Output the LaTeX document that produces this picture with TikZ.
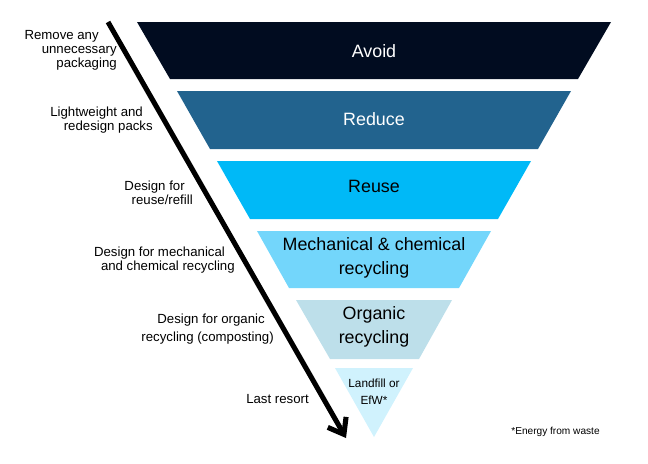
\documentclass[tikz,border=0pt]{standalone}
\usepackage{fontspec}
\setmainfont{Liberation Sans}
\usetikzlibrary{arrows.meta}
\definecolor{avoidc}{HTML}{010C20}
\definecolor{reducec}{HTML}{22638E}
\definecolor{reusec}{HTML}{00B9F7}
\definecolor{recyc}{HTML}{73D6FB}
\definecolor{organc}{HTML}{BDDFEA}
\definecolor{landc}{HTML}{D0F2FD}
\newcommand{\bandtxt}{\fontsize{12.7}{17}\selectfont}
\newcommand{\sidetxt}{\fontsize{9.4}{10}\selectfont}

\begin{document}
\begin{tikzpicture}[x=0.025cm,y=-0.025cm,
    lbl/.style={anchor=east,align=right,inner sep=0pt,font=\sidetxt},
    tier/.style={align=center,inner sep=0pt,font=\bandtxt}]
      \useasboundingbox (0,0) rectangle (648,463);
      \begin{scope}
        \fill[avoidc] (137,22) -- (611,22) -- (578,79) -- (170,79) -- cycle;
        \fill[reducec] (177,91) -- (571,91) -- (538,149) -- (210,149) -- cycle;
        \fill[reusec] (217,161) -- (531,161) -- (498,219) -- (250,219) -- cycle;
        \fill[recyc] (257,231) -- (491,231) -- (459,288) -- (289,288) -- cycle;
        \fill[organc] (296,300) -- (452,300) -- (419,359) -- (330,359) -- cycle;
        \fill[landc] (335,368) -- (413,368) -- (374,437) -- cycle;
        \node[tier,white] (avoid) at (374,51) {Avoid};
        \node[tier,white] (reduce) at (374,119) {Reduce};
        \node[tier] (reuse) at (374,186) {Reuse};
        \node[tier] (mech) at (374,258) {Mechanical \& chemical\\recycling};
        \node[tier] (organic) at (374,327) {Organic\\recycling};
        \node[tier,font=\fontsize{8.4}{12}\selectfont] (landfill) at (374,391.5) {Landfill or\\EfW*};
      \end{scope}
      \begin{scope}
        \node[lbl] (remove) at (117,50) {Remove any\hspace*{12.8pt}\\unnecessary\hspace*{5.7pt}\\packaging};
        \node[lbl] (light) at (153,120.5) {Lightweight and\hspace*{7pt}\\redesign packs};
        \node[lbl] (dreuse) at (193,192.5) {Design for\hspace*{5.7pt}\\reuse/refill};
        \node[lbl] (dmech) at (235,260) {Design for mechanical\hspace*{7pt}\\and chemical recycling};
        \node[lbl] (dorg) at (274,329) {Design for organic\hspace*{6.4pt}\\[2.5pt]recycling (composting)};
        \node[lbl] (last) at (309,399) {Last resort};
        \node[inner sep=0pt,font=\fontsize{7.2}{8}\selectfont] (efw) at (555.5,432) {*Energy from waste};
        \coordinate (start) at (108,22);
        \coordinate (tip) at (346,438);
        \draw[line width=3.6pt,-{Straight Barb[length=10pt,width=15pt]}] (start) -- (tip);
      \end{scope}
    \end{tikzpicture}
\end{document}
